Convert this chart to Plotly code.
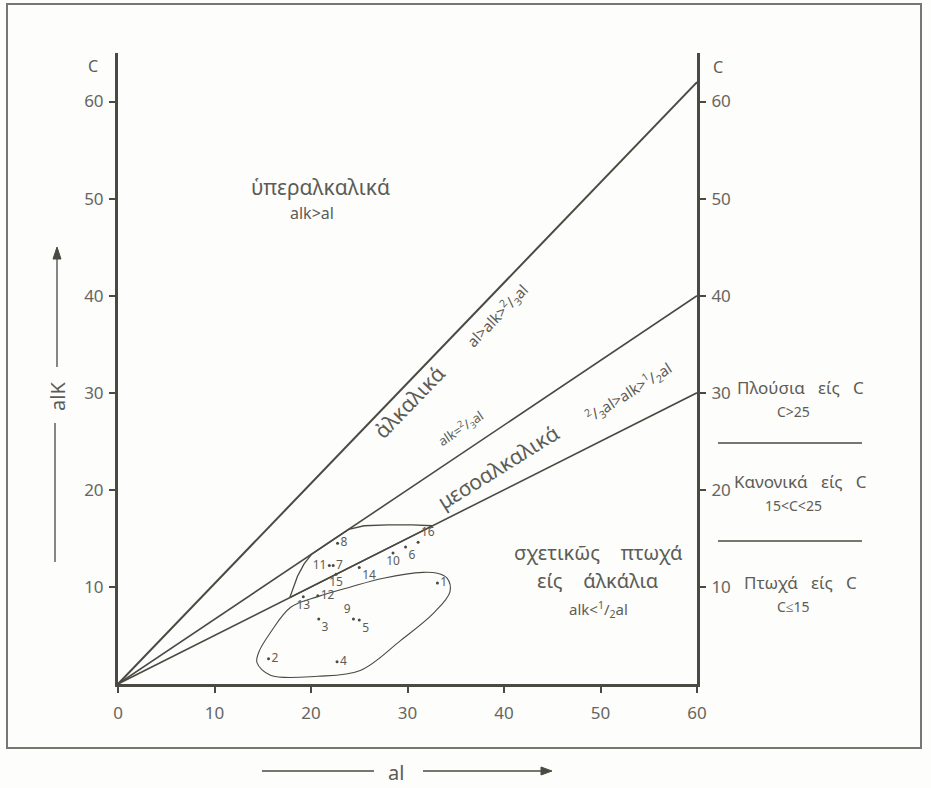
import plotly.graph_objects as go

# ---------------- data ----------------
tick_vals = [0, 10, 20, 30, 40, 50, 60]

# boundary lines from origin: alk = al, alk = 2/3 al, alk = 1/2 al (as drawn)
line_al = [0, 60]
line_alk_1 = [0, 62]
line_alk_23 = [0, 40]
line_alk_12 = [0, 30]

# sample points
pt_labels = ["1", "2", "3", "4", "5", "6", "7", "8", "9", "10", "11", "12", "13", "14", "15", "16"]
pt_al =  [33.1, 15.6, 20.8, 22.7, 25.0, 29.8, 22.3, 22.75, 24.4, 28.5, 21.9, 20.7, 19.2, 25.0, 22.6, 31.1]
pt_alk = [10.4, 2.6, 6.7, 2.3, 6.6, 14.1, 12.2, 14.5, 6.7, 13.5, 12.2, 9.1, 9.0, 12.0, 11.3, 14.6]
pt_textpos = ["middle right", "middle right", "bottom right", "middle right", "bottom right",
              "bottom right", "middle right", "middle right", "top left", "bottom center",
              "middle left", "middle right", "bottom center", "bottom right", "bottom center",
              "top right"]

# upper field outline
f1_al =  [17.8, 18.2, 18.6, 19.3, 20.1, 22.0, 23.9, 25.5, 28.0, 30.5, 32.6, 25.0, 17.8]
f1_alk = [8.9, 10.0, 11.1, 12.4, 13.4, 14.67, 15.93, 16.3, 16.4, 16.4, 16.3, 12.5, 8.9]

# lower field outline
f2_al =  [14.4, 14.6, 15.8, 17.9, 20.7, 24.1, 27.5, 31.6, 33.1, 34.1, 34.4, 32.7, 29.3, 25.1, 20.7, 15.8, 14.4]
f2_alk = [2.2, 3.3, 5.3, 7.9, 9.0, 10.0, 10.9, 11.5, 11.4, 10.9, 9.5, 7.3, 4.5, 1.4, 0.8, 0.9, 2.2]

# ---------------- styling helpers ----------------
L, R, T, B = 118, 697, 53, 684
W, H = 931, 788
def px(x):
    return (x - L) / (R - L)
def py(y):
    return (B - y) / (B - T)

INK = "#4a4a42"
TXT = "#5c5c56"
FONT = "Noto Sans"
SP = "&nbsp;&nbsp;&nbsp;"
SP4 = "&nbsp;&nbsp;&nbsp;&nbsp;"

fig = go.Figure()

for yy, w in [(line_alk_1, 2), (line_alk_23, 1.6), (line_alk_12, 1.6)]:
    fig.add_trace(go.Scatter(x=line_al, y=yy, mode="lines",
                             line=dict(color=INK, width=w), hoverinfo="skip"))

fig.add_trace(go.Scatter(x=f1_al, y=f1_alk, mode="lines",
                         line=dict(color=INK, width=1.3), hoverinfo="skip"))
fig.add_trace(go.Scatter(x=f2_al, y=f2_alk, mode="lines",
                         line=dict(color=INK, width=1.1, shape="spline", smoothing=1.0),
                         hoverinfo="skip"))

fig.add_trace(go.Scatter(x=pt_al, y=pt_alk, mode="markers+text", text=pt_labels,
                         textposition=pt_textpos,
                         marker=dict(size=3, color=INK),
                         textfont=dict(size=12, color=TXT, family=FONT),
                         hoverinfo="skip"))

# invisible trace for the right-hand axis
fig.add_trace(go.Scatter(x=[0], y=[0], yaxis="y2", mode="markers",
                         marker=dict(size=0.1, opacity=0), hoverinfo="skip"))

axis_common = dict(showgrid=False, zeroline=False, showline=True, linecolor=INK,
                   linewidth=3, ticks="outside", ticklen=6, tickwidth=1.5,
                   tickcolor=INK, tickfont=dict(size=17, color="#66665f", family=FONT))

fig.update_layout(
    width=W, height=H,
    margin=dict(l=L, r=W - R, t=T, b=H - B),
    paper_bgcolor="#fdfdfb", plot_bgcolor="#fdfdfb",
    showlegend=False,
    xaxis=dict(range=[0, 60], tickvals=tick_vals, ticklabelstandoff=6, **axis_common),
    yaxis=dict(range=[0, 65], tickvals=tick_vals[1:], ticklabelstandoff=2, **axis_common),
    yaxis2=dict(range=[0, 65], tickvals=tick_vals[1:], overlaying="y", side="right",
                anchor="x", ticklabelstandoff=2, **axis_common),
)

def ann(x, y, text, size=17, angle=0, color=TXT):
    fig.add_annotation(x=px(x), y=py(y), xref="paper", yref="paper", text=text,
                       showarrow=False, textangle=angle,
                       font=dict(size=size, color=color, family=FONT),
                       xanchor="center", yanchor="middle")

def seg(x0, y0, x1, y1, w=1.3):
    fig.add_shape(type="line", xref="paper", yref="paper",
                  x0=px(x0), x1=px(x1), y0=py(y0), y1=py(y1),
                  line=dict(color=INK, width=w))

def tri(pts):
    d = "M " + " L ".join(f"{px(a):.5f},{py(b):.5f}" for a, b in pts) + " Z"
    fig.add_shape(type="path", xref="paper", yref="paper", path=d,
                  fillcolor=INK, line=dict(color=INK, width=1))

FR = "<sup>2</sup>/<sub>3</sub>"
HF = "<sup>1</sup>/<sub>2</sub>"

# axis "C" markers
ann(93, 66, "C", 16)
ann(718, 67, "C", 16)

# region labels
ann(320, 187, "ὑπεραλκαλικά", 21)
ann(312, 213, "alk&gt;al", 16)
ann(409, 402, "ἀλκαλικά", 21, -46)
ann(497, 315, "al&gt;alk&gt;" + FR + "al", 15, -46)
ann(460, 428, "alk=" + FR + "al", 13, -34)
ann(498, 467, "μεσοαλκαλικά", 21, -32)
ann(628, 392, FR + "al&gt;alk&gt;" + HF + "al", 15, -32)
ann(598, 552, "σχετικῶς" + SP4 + "πτωχά", 20)
ann(598, 580, "είς" + SP4 + "άλκάλια", 20)
ann(598, 609, "alk&lt;" + HF + "al", 15)

# right-hand C classes
ann(800, 387, "Πλούσια" + SP + "είς" + SP + "C", 17)
ann(793, 411, "C&gt;25", 14)
ann(800, 481, "Κανονικά" + SP + "είς" + SP + "C", 17)
ann(793, 505, "15&lt;C&lt;25", 14)
ann(800, 582, "Πτωχά" + SP + "είς" + SP + "C", 17)
ann(793, 606, "C≤15", 14)

# separators on right
for yy in [443, 541]:
    seg(718, yy, 862, yy)

# axis titles with arrows
ann(396, 772, "al", 20)
seg(262, 771, 374, 771)
seg(423, 771, 548, 771)
tri([(552, 771), (541, 767), (541, 775)])

ann(57, 397, "alK", 20, -90)
seg(55, 423, 55, 562)
seg(57, 252, 57, 367)
tri([(57, 247), (53, 259), (61, 259)])

# outer frame
fig.add_shape(type="rect", xref="paper", yref="paper",
              x0=px(7), x1=px(921), y0=py(4), y1=py(748),
              line=dict(color="#77776f", width=2))

fig.write_html("out.html", config={"displayModeBar": False},
               post_script="document.body.style.margin='0px';"
                           "document.body.style.overflow='hidden';")
